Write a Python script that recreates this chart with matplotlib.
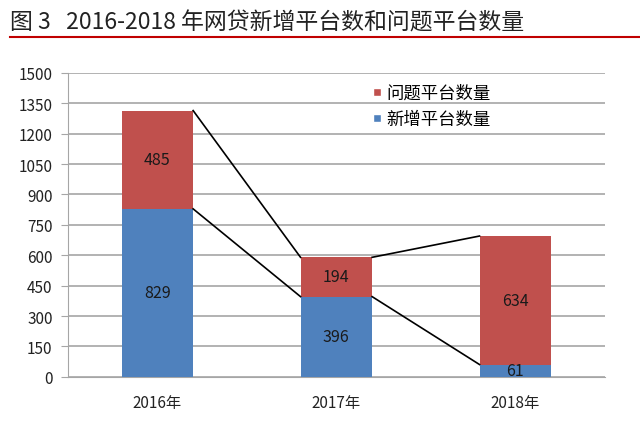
import numpy as np
import matplotlib.pyplot as plt
from matplotlib.lines import Line2D

plt.rcParams['font.family'] = ['Noto Sans CJK SC', 'DejaVu Sans']

years = ['2016年', '2017年', '2018年']
new_plat = [829, 396, 61]
prob_plat = [485, 194, 634]
yticks = [0, 150, 300, 450, 600, 750, 900, 1050, 1200, 1350, 1500]

blue = '#4F81BD'
red = '#C0504D'
w = 0.4

fig = plt.figure(figsize=(6.4, 4.27), dpi=100)
ax = fig.add_axes([0.106, 0.115, 0.839, 0.712])

x = np.arange(len(years))
ax.bar(x, new_plat, w, color=blue, zorder=3)
ax.bar(x, prob_plat, w, bottom=new_plat, color=red, zorder=3)

tot = np.array(new_plat) + np.array(prob_plat)
# series lines between bars
for i in range(len(years) - 1):
    ax.plot([x[i] + w / 2, x[i + 1] - w / 2], [new_plat[i], new_plat[i + 1]], color='black', lw=1.2, zorder=4)
    ax.plot([x[i] + w / 2, x[i + 1] - w / 2], [tot[i], tot[i + 1]], color='black', lw=1.2, zorder=4)

for i in range(len(years)):
    ax.text(x[i], new_plat[i] / 2, str(new_plat[i]),
            ha='center', va='center', fontsize=11.5, color='#1a1a1a', zorder=5)
    ax.text(x[i], new_plat[i] + prob_plat[i] / 2, str(prob_plat[i]),
            ha='center', va='center', fontsize=11.5, color='#1a1a1a', zorder=5)

ax.set_xlim(-0.5, 2.5)
ax.set_ylim(0, 1500)
ax.set_yticks(yticks)
ax.set_xticks(x)
ax.set_xticklabels(years)
ax.yaxis.grid(True, color='#A6A6A6', lw=1.2, zorder=0)
for s in ['top', 'right']:
    ax.spines[s].set_visible(False)
ax.spines['left'].set_color('#A6A6A6')
ax.spines['bottom'].set_color('#A6A6A6')
ax.tick_params(axis='y', length=5, color='#A6A6A6', labelsize=11, labelcolor='#222222', pad=6)
ax.tick_params(axis='x', length=0, labelsize=11, labelcolor='#222222', pad=12)

handles = [Line2D([], [], marker='s', color='w', markerfacecolor=red, markersize=6, lw=0),
           Line2D([], [], marker='s', color='w', markerfacecolor=blue, markersize=6, lw=0)]
ax.legend(handles, ['问题平台数量', '新增平台数量'], loc='upper left', bbox_to_anchor=(0.53, 1.015),
          frameon=False, fontsize=12.5, handletextpad=0.05, labelspacing=0.45, handlelength=1)

fig.text(0.016, 0.945, '图 3   2016-2018 年网贷新增平台数和问题平台数量', fontsize=16.5, color='#222222', va='center')
fig.add_artist(Line2D([0.015, 1.0], [0.91, 0.91], color='#C00000', lw=1.5))

fig.savefig('out.png', dpi=100)
